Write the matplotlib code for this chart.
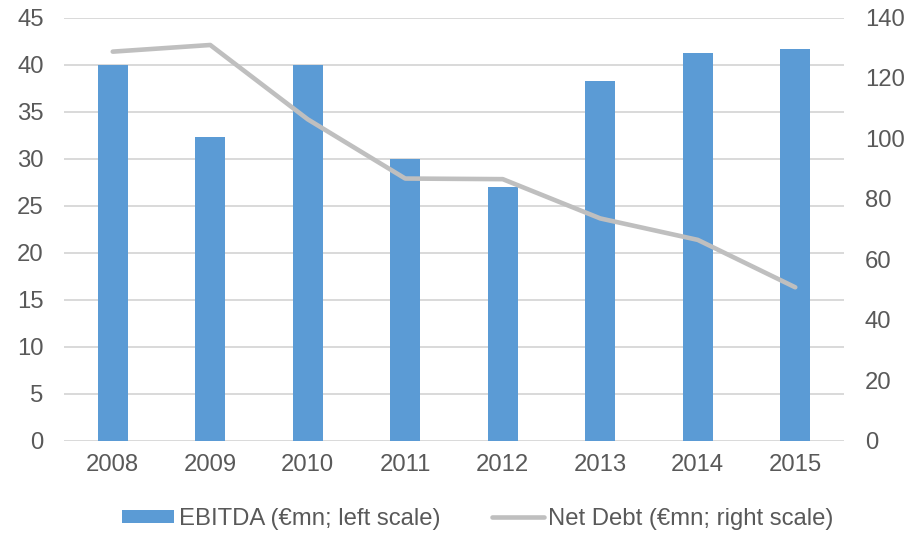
import matplotlib
matplotlib.use("Agg")
import matplotlib.pyplot as plt
import numpy as np

plt.rcParams['font.family'] = ['Liberation Sans', 'DejaVu Sans']

years = ['2008', '2009', '2010', '2011', '2012', '2013', '2014', '2015']
ebitda = [40.0, 32.3, 40.0, 30.0, 27.0, 38.2, 41.2, 41.7]
net_debt = [128.7, 130.9, 106.3, 86.7, 86.5, 73.5, 66.4, 50.7]

left_ticks = [0, 5, 10, 15, 20, 25, 30, 35, 40, 45]
right_ticks = [0, 20, 40, 60, 80, 100, 120, 140]

bar_color = '#5B9BD5'
line_color = '#BFBFBF'
grid_color = '#D9D9D9'
text_color = '#595959'
fs = 17.2

fig = plt.figure(figsize=(9.16, 5.33), dpi=100)
ax = fig.add_axes([64 / 916, 92.5 / 533, 780 / 916, 423 / 533])
ax2 = ax.twinx()

x = np.arange(len(years))
ax.bar(x, ebitda, width=0.31, color=bar_color, zorder=2,
       label='EBITDA (€mn; left scale)')
ax2.plot(x, net_debt, color=line_color, linewidth=3.3, solid_capstyle='round',
         solid_joinstyle='round', label='Net Debt (€mn; right scale)')

ax.set_xlim(-0.5, len(years) - 0.5)
ax.set_ylim(0, 45)
ax2.set_ylim(0, 140)
ax.set_yticks(left_ticks)
ax2.set_yticks(right_ticks)
ax.set_xticks(x)
ax.set_xticklabels(years)

for a in (ax, ax2):
    for s in a.spines.values():
        s.set_visible(False)
    a.tick_params(length=0, labelsize=fs, labelcolor=text_color)
ax.tick_params(axis='y', pad=14.5)
ax2.tick_params(axis='y', pad=15)
ax.tick_params(axis='x', pad=10)

ax.yaxis.grid(True, color=grid_color, linewidth=1.4, zorder=0)
ax.set_axisbelow(True)

h1, l1 = ax.get_legend_handles_labels()
h2, l2 = ax2.get_legend_handles_labels()
fig.legend(h1 + h2, l1 + l2, loc='center', bbox_to_anchor=(478 / 916, 14 / 533),
           ncol=2, frameon=False, fontsize=fs, labelcolor=text_color,
           handlelength=2.17, handleheight=0.46, handletextpad=0.2,
           columnspacing=2.15, borderpad=0)

fig.savefig('out.png', dpi=100)
